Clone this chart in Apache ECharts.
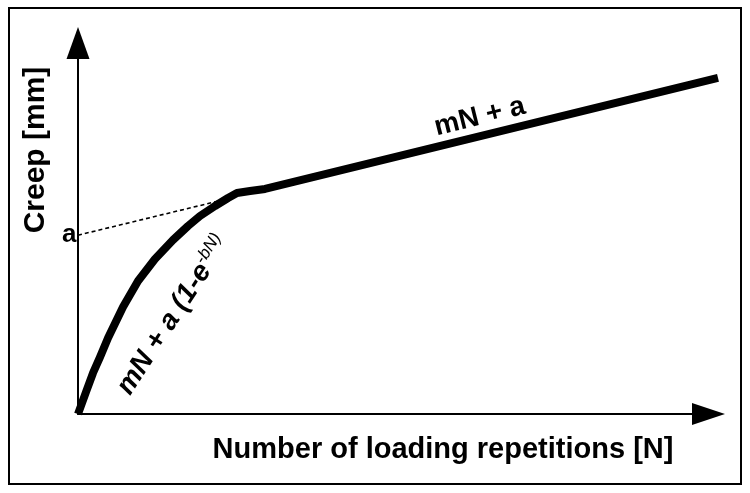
<!DOCTYPE html>
<html>
<head>
<meta charset="utf-8">
<script src="https://cdn.jsdelivr.net/npm/echarts@6/dist/echarts.min.js"></script>
<style>
  html, body { margin: 0; padding: 0; background: #fff; }
  #chart { width: 750px; height: 493px; }
</style>
</head>
<body>
<div id="chart"></div>
<script>
// ---- data ----
var creepN = [0, 1.25, 2.34, 3.44, 4.69, 7.03, 9.38, 12.03, 14.84, 17.19, 19.06, 21.41, 23.44, 24.84, 26.88, 29.22, 100];
var creepY = [0, 5.93, 11.05, 15.36, 20.49, 28.84, 35.85, 41.78, 46.90, 50.67, 53.37, 56.06, 58.22, 59.57, 60.11, 60.65, 90.57];
var asymN = [0, 22.9];
var asymY = [48.2, 57.8];
var aValue = 48.2;
var xTitle = 'Number of loading repetitions [N]';
var yTitle = 'Creep [mm]';
var lineLabelPos = [62.8, 80.1];
var curveLabelPos = [14.9, 26.6];

var FONT = '"Liberation Sans", Arial, sans-serif';

function pairs(xs, ys) { return xs.map(function (x, i) { return [x, ys[i]]; }); }

var chart = echarts.init(document.getElementById('chart'), null, { renderer: 'canvas' });
chart.setOption({
  animation: false,
  backgroundColor: '#ffffff',
  tooltip: { show: false },
  grid: { left: 78, right: 32, top: 43, bottom: 79, containLabel: false, outerBoundsMode: 'none' },
  xAxis: {
    type: 'value', min: 0, max: 100,
    name: xTitle, nameLocation: 'middle', nameGap: 21,
    nameTextStyle: { fontFamily: FONT, fontWeight: 'bold', fontSize: 29, color: '#000', padding: [0, 0, 0, 90] },
    axisLine: { show: true, onZero: false, symbol: ['none', 'triangle'], symbolSize: [22, 33], symbolOffset: [0, -9.5],
      lineStyle: { color: '#000', width: 2 } },
    axisTick: { show: false }, axisLabel: { show: false }, splitLine: { show: false }
  },
  yAxis: {
    type: 'value', min: 0, max: 100,
    name: yTitle, nameLocation: 'middle', nameGap: 27, nameRotate: 90,
    nameTextStyle: { fontFamily: FONT, fontWeight: 'bold', fontSize: 30, color: '#000', padding: [0, 0, 0, 157] },
    axisLine: { show: true, onZero: false, symbol: ['none', 'triangle'], symbolSize: [23, 32], symbolOffset: [0, 0],
      lineStyle: { color: '#000', width: 2 } },
    axisTick: { show: false }, axisLabel: { show: false }, splitLine: { show: false }
  },
  graphic: [{
    type: 'rect', shape: { x: 9, y: 8, width: 732, height: 476 },
    style: { fill: 'none', stroke: '#000', lineWidth: 2 }, silent: true, z: 100
  }],
  series: [
    {
      name: 'asymptote', type: 'line', data: pairs(asymN, asymY),
      showSymbol: false, silent: true, clip: false,
      lineStyle: { color: '#000', width: 1.6, type: [4, 3] }, z: 2
    },
    {
      name: 'creep', type: 'line', data: pairs(creepN, creepY),
      showSymbol: false, silent: true, clip: false, smooth: false,
      lineStyle: { color: '#000', width: 8, cap: 'butt', join: 'round' }, z: 3
    },
    {
      name: 'aLabel', type: 'scatter', data: [[0, aValue]], symbolSize: 1, silent: true,
      itemStyle: { color: 'rgba(0,0,0,0)', opacity: 1 },
      label: { show: true, position: 'left', distance: 1, formatter: 'a', color: '#000',
        fontFamily: FONT, fontWeight: 'bold', fontSize: 26 }, z: 5
    },
    {
      name: 'lineLabel', type: 'scatter', data: [lineLabelPos], symbolSize: 1, silent: true,
      itemStyle: { color: 'rgba(0,0,0,0)', opacity: 1 },
      label: { show: true, position: 'inside', rotate: 14, formatter: 'mN + a', color: '#000',
        textBorderWidth: 0, fontFamily: FONT, fontWeight: 'bold', fontSize: 28 }, z: 5
    },
    {
      name: 'curveLabel', type: 'scatter', data: [curveLabelPos], symbolSize: 1, silent: true,
      itemStyle: { color: 'rgba(0,0,0,0)', opacity: 1 },
      label: { show: true, position: 'inside', rotate: 57, textBorderWidth: 0,
        formatter: '{m|mN + a (1-e}{s|-bN)}',
        rich: {
          m: { fontFamily: FONT, fontWeight: 'bold', fontStyle: 'italic', fontSize: 28, color: '#000', lineHeight: 31 },
          s: { fontFamily: FONT, fontWeight: 'normal', fontStyle: 'italic', fontSize: 17, color: '#000', verticalAlign: 'top', lineHeight: 31, padding: [0, 0, 10, 0] }
        } }, z: 5
    }
  ]
});
</script>
</body>
</html>
